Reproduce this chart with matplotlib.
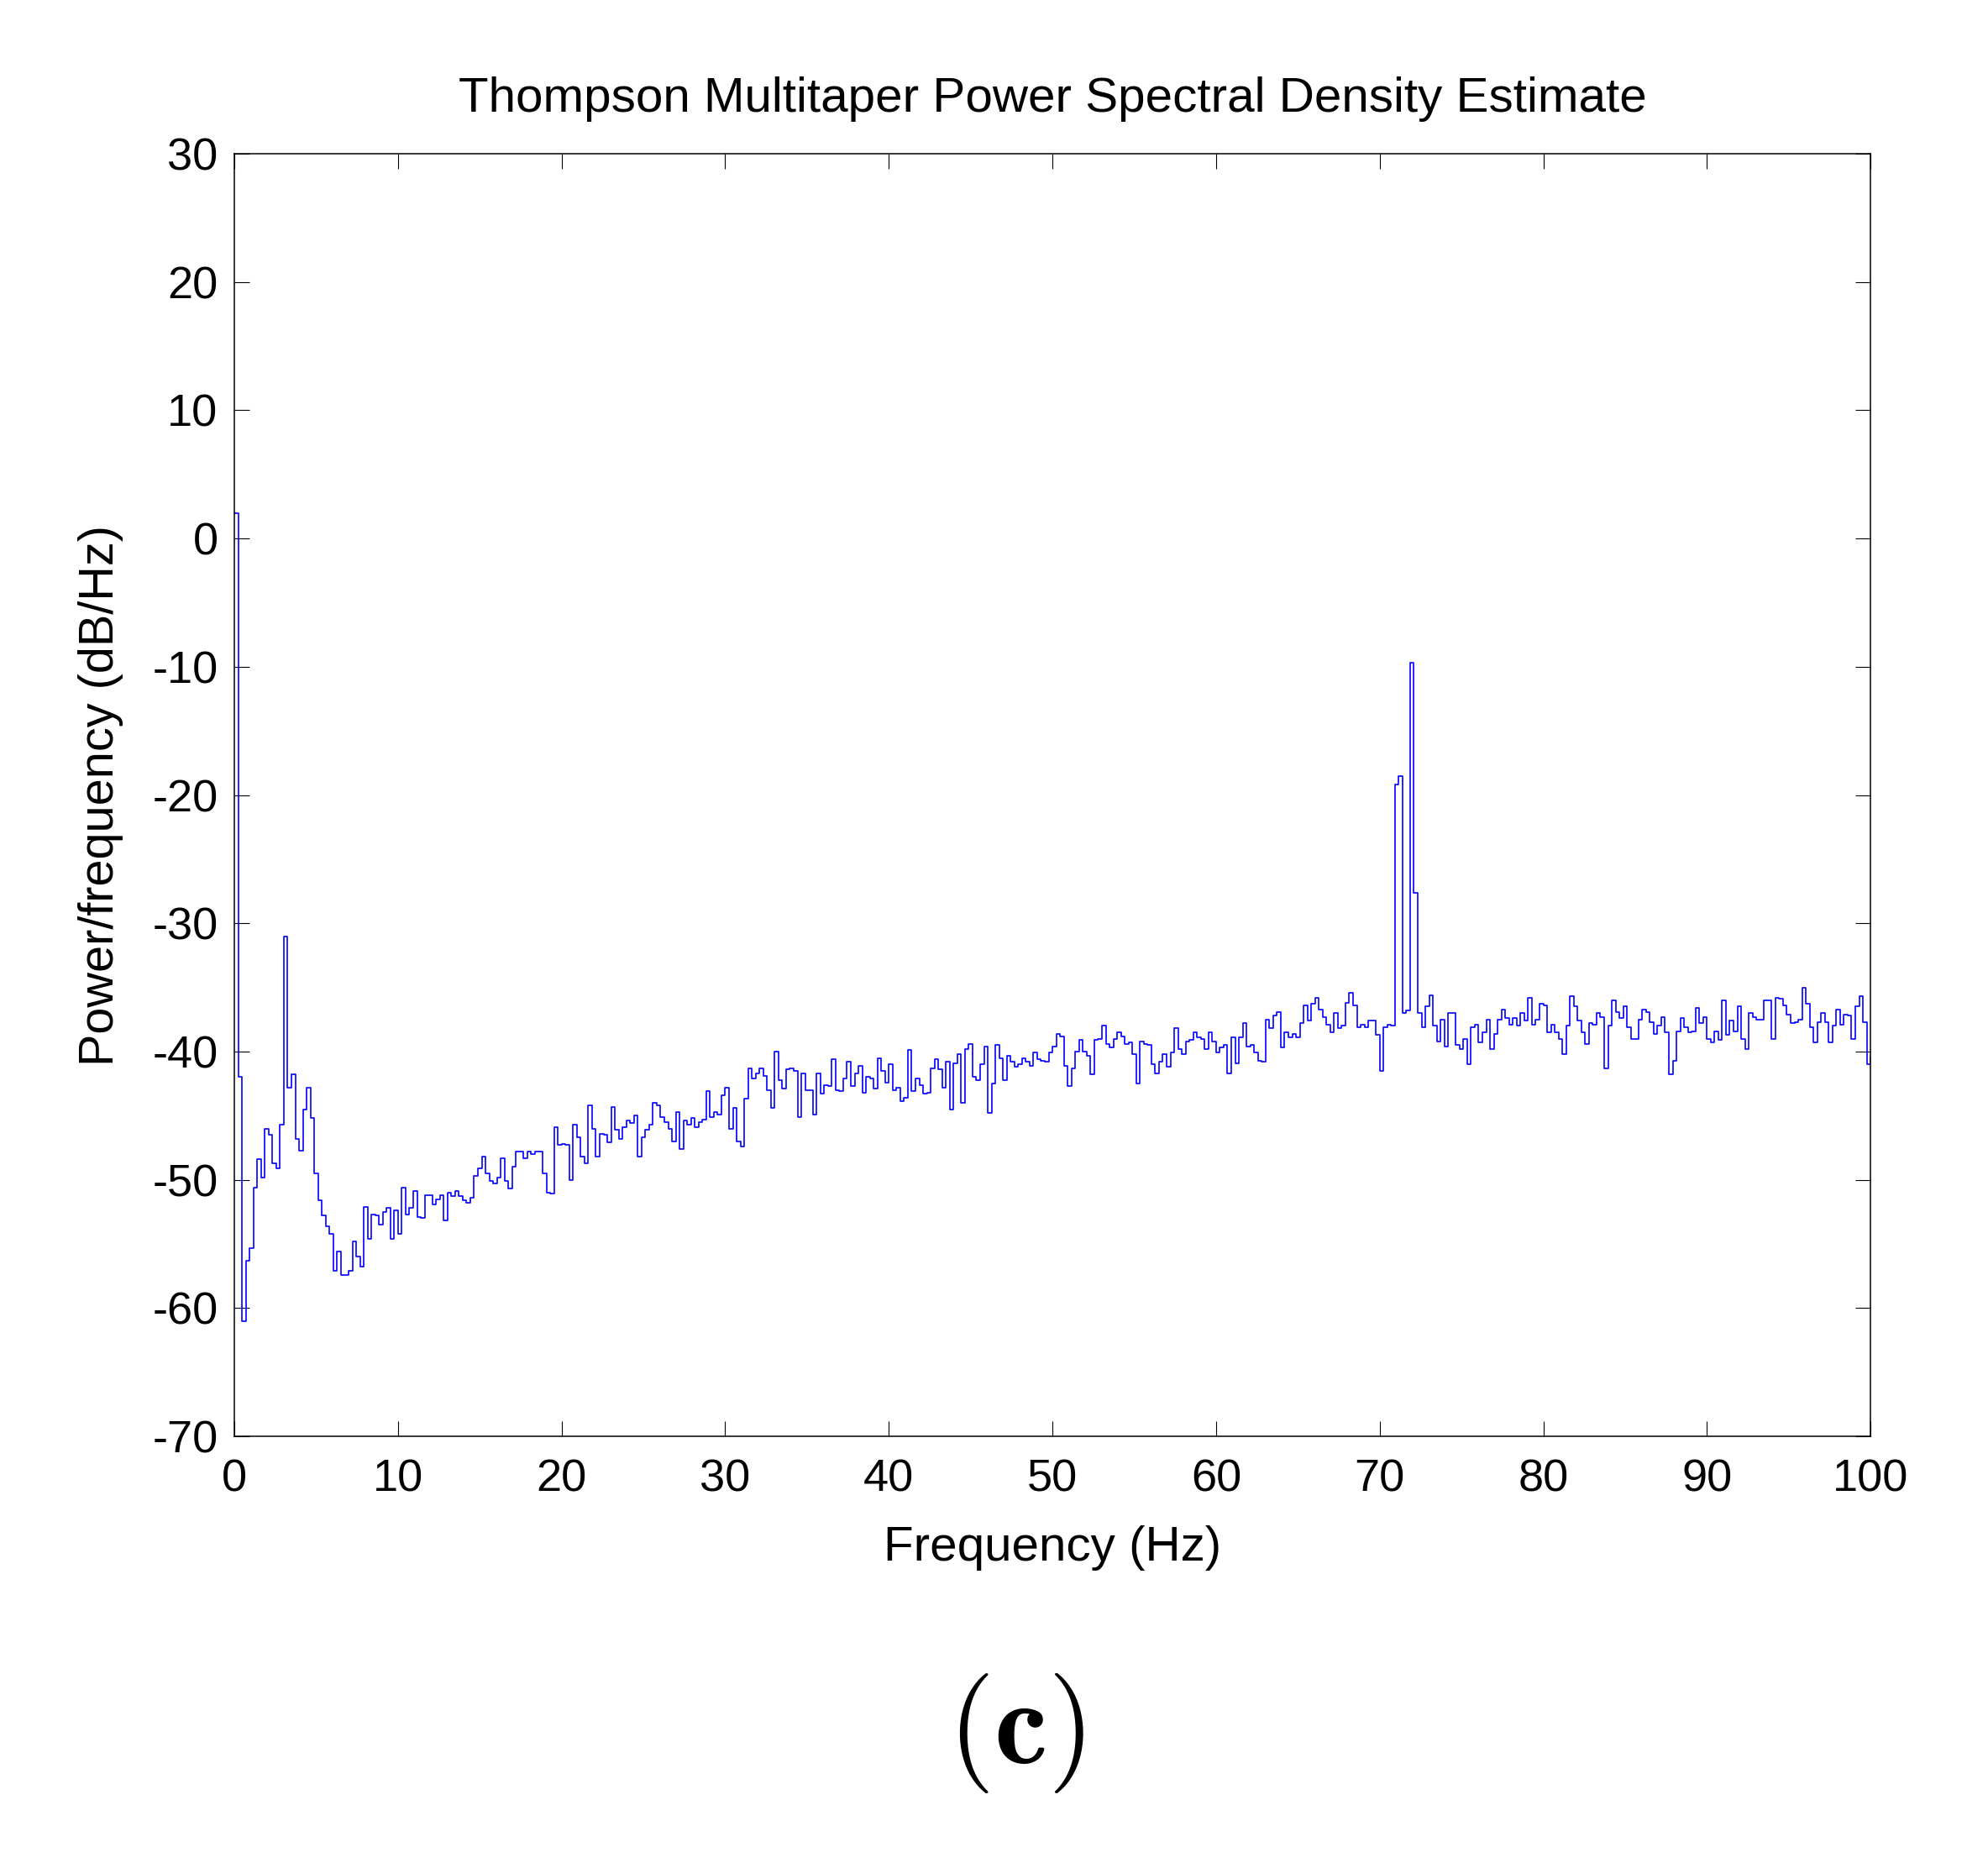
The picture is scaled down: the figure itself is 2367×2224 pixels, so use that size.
import numpy as np
import matplotlib
matplotlib.use("Agg")
import matplotlib.pyplot as plt

# PSD values (dB/Hz), one per frequency bin
psd_0_20 = [2.0, -42.0, -61.0, -56.3, -55.3, -50.6, -48.4, -49.8, -46.0, -46.5,
            -48.7, -49.1, -45.7, -31.0, -42.8, -41.8, -46.8, -47.7, -44.5, -42.8,
            -45.2, -49.5, -51.6, -52.8, -53.6, -54.2, -57.1, -55.6, -57.4, -57.4,
            -57.1, -54.8, -56.0, -56.8, -52.1, -54.6, -52.7, -52.8, -53.5, -52.5,
            -52.2, -54.6, -52.4, -54.2, -50.6, -52.7, -52.2, -50.9, -52.9, -53.0,
            -51.2, -51.2, -51.9, -51.5, -51.2, -53.2, -51.0, -51.3, -50.9, -51.3,
            -51.6, -51.8, -51.4, -49.7, -49.1, -48.2, -49.5, -50.1, -50.3, -49.8,
            -48.3, -50.1, -50.7, -49.0, -47.8, -47.8, -48.3, -47.8, -48.0, -47.8,
            -47.8, -49.5, -51.0, -51.1, -45.9, -47.3]
psd_20_40 = [-47.2, -47.3, -50.0, -45.7, -46.7, -48.2, -48.7, -44.2, -46.0, -48.2,
             -46.4, -46.5, -47.1, -44.3, -46.1, -46.8, -45.9, -45.4, -45.6, -45.0,
             -48.2, -46.7, -46.1, -45.7, -44.0, -44.2, -45.1, -45.5, -46.0, -47.0,
             -44.7, -47.6, -45.4, -45.7, -45.2, -45.9, -45.5, -45.3, -43.1, -45.1,
             -44.7, -44.9, -43.4, -42.8, -46.0, -44.4, -47.0, -47.4, -43.7, -41.3,
             -42.1, -41.7, -41.3, -41.9, -43.0, -44.4, -40.0, -42.2, -42.9, -41.4,
             -41.3, -41.5, -45.1, -41.7, -43.0, -43.0, -44.9, -41.7, -43.3, -42.6,
             -42.7, -40.6, -43.0, -43.1, -42.1, -40.8, -42.7, -41.7, -41.1, -43.2,
             -42.0, -42.1, -42.9, -40.5, -41.5, -42.4]
psd_40_60 = [-41.0, -43.0, -42.8, -43.9, -43.6, -39.9, -43.1, -42.1, -42.6, -43.3,
             -43.2, -41.3, -40.6, -41.4, -42.8, -40.8, -44.5, -40.9, -40.2, -44.0,
             -39.8, -39.4, -42.0, -42.2, -41.0, -39.6, -44.8, -42.5, -39.5, -40.5,
             -42.2, -40.3, -40.8, -41.2, -41.0, -40.5, -40.8, -41.1, -40.1, -40.6,
             -40.7, -40.8, -40.1, -39.6, -38.6, -38.8, -41.1, -42.7, -41.3, -40.0,
             -39.1, -40.0, -40.3, -41.8, -39.1, -39.0, -38.0, -39.4, -39.7, -39.0,
             -38.5, -38.8, -39.4, -39.3, -40.2, -42.5, -39.2, -39.4, -39.5, -41.0,
             -41.7, -40.8, -40.2, -41.2, -40.1, -38.2, -39.8, -40.2, -39.2, -39.1,
             -38.5, -38.9, -39.0, -39.8, -38.5, -39.2]
psd_60_80 = [-40.1, -39.7, -39.5, -41.7, -38.9, -40.9, -38.9, -37.8, -39.6, -39.5,
             -40.1, -40.7, -40.8, -37.5, -38.2, -37.2, -36.9, -39.7, -38.5, -38.9,
             -38.6, -38.9, -37.8, -36.4, -37.6, -36.3, -35.8, -36.7, -37.3, -37.9,
             -38.5, -37.0, -38.2, -38.0, -36.2, -35.4, -36.4, -38.1, -37.9, -38.1,
             -37.6, -37.6, -38.7, -41.5, -38.1, -37.9, -38.0,
             -19.2, -18.5, -37.0, -36.8, -9.7, -27.6,
             -37.0, -38.1, -36.5, -35.6, -38.0, -39.2, -37.5, -39.6, -37.0, -37.0,
             -39.5, -39.8, -39.0, -41.0, -38.1, -37.9, -39.3, -38.5, -37.5, -39.8,
             -38.6, -37.5, -36.7, -37.4, -37.9, -37.4, -38.0, -37.0, -37.6, -35.8,
             -37.9, -37.5, -36.3]
psd_80_100 = [-36.4, -38.5, -37.9, -38.5, -39.0, -40.2, -38.0, -35.7, -36.5, -37.6,
              -38.5, -39.4, -37.8, -37.9, -37.0, -37.3, -41.3, -38.0, -36.0, -36.9,
              -37.4, -36.5, -38.1, -39.0, -39.0, -37.5, -36.7, -36.9, -37.7, -38.6,
              -38.0, -37.3, -38.5, -41.8, -40.7, -38.4, -37.4, -38.1, -38.5, -38.4,
              -36.6, -37.8, -37.3, -39.0, -39.3, -38.4, -39.1, -36.0, -38.7, -37.6,
              -38.4, -36.5, -39.0, -39.8, -37.0, -37.3, -37.5, -37.5, -36.0, -36.0,
              -39.0, -35.8, -35.9, -36.4, -37.1, -37.8, -37.7, -37.5, -35.0, -36.3,
              -38.1, -39.3, -37.7, -37.0, -37.7, -39.3, -38.0, -36.7, -37.9, -37.1,
              -37.2, -39.0, -36.5, -35.7, -37.7, -41.0, -40.4]

psd = np.array(psd_0_20 + psd_20_40 + psd_40_60 + psd_60_80 + psd_80_100)
freq = np.linspace(0, 100, len(psd))

xticks = [0, 10, 20, 30, 40, 50, 60, 70, 80, 90, 100]
yticks = [30, 20, 10, 0, -10, -20, -30, -40, -50, -60, -70]

plt.rcParams['font.family'] = ['Liberation Sans', 'DejaVu Sans']
plt.rcParams['axes.unicode_minus'] = False
plt.rcParams['mathtext.fontset'] = 'cm'

fig = plt.figure(figsize=(23.67, 22.24), dpi=100)
ax = fig.add_axes([0.1179, 0.2311, 0.8230, 0.6866])

ax.plot(freq, psd, color='#0000ff', linewidth=1.2, drawstyle='steps-post')

ax.set_xlim(0, 100)
ax.set_ylim(-70, 30)
ax.set_xticks(xticks)
ax.set_yticks(yticks)
ax.tick_params(direction='in', length=13, width=0.8, labelsize=39,
               top=True, right=True, pad=14)
ax.tick_params(axis='x', pad=19)
for s in ax.spines.values():
    s.set_linewidth(1.1)

ax.set_title('Thompson Multitaper Power Spectral Density Estimate',
             fontsize=42, pad=36)
ax.set_xlabel('Frequency (Hz)', fontsize=42, labelpad=21)
ax.set_ylabel('Power/frequency (dB/Hz)', fontsize=41.5, labelpad=25)

fig.text(0.511, 0.072, r'$\mathbf{(c)}$', ha='center', va='center', fontsize=103)

fig.savefig('out.png', dpi=100)
